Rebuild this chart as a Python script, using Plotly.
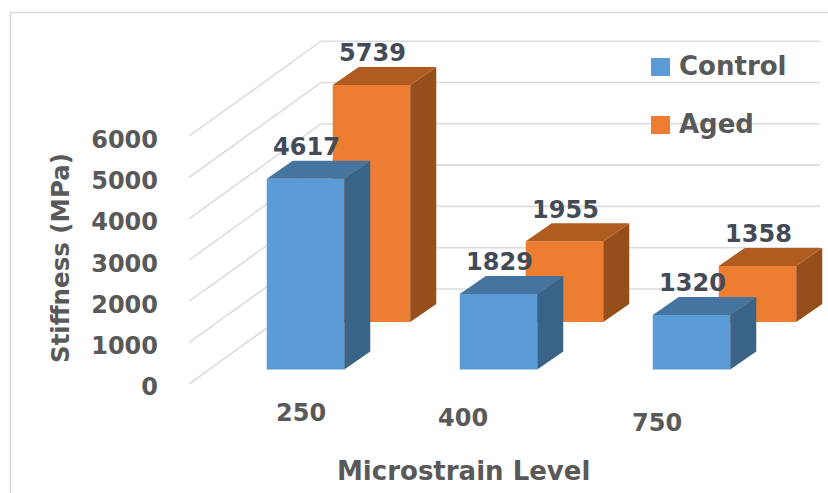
import plotly.graph_objects as go

# Chart values
levels = ["250", "400", "750"]
control = [4617, 1829, 1320]
aged = [5739, 1955, 1358]
y_ticks = [0, 1000, 2000, 3000, 4000, 5000, 6000]

W, H = 828, 493
FONT = "DejaVu Sans"
AXIS_GREY = "#595959"
LABEL_DARK = "#434b57"

# Oblique projection of the pseudo-3D box, expressed in screen pixels per unit
PX_PER_CAT = 193.0
PX_PER_VAL = 0.0413
BAR_PX = 77.5
DEPTH_X, DEPTH_Y = 26.0, 18.0      # bar depth
ROW_X, ROW_Y = 66.0, 47.5          # shift of the rear series
ORIGIN_X, BAR_ZERO_Y = 305.5, 369.5
TICK_ZERO_Y = 384.0                # the value labels sit on the front edge of the wall

dx = lambda px: px / PX_PER_CAT
dv = lambda px: px / PX_PER_VAL
xrange_ = [-ORIGIN_X / PX_PER_CAT, (W - ORIGIN_X) / PX_PER_CAT]
bar_range = [-(H - BAR_ZERO_Y) / PX_PER_VAL, BAR_ZERO_Y / PX_PER_VAL]
tick_range = [-(H - TICK_ZERO_Y) / PX_PER_VAL, TICK_ZERO_Y / PX_PER_VAL]

WALL_FRONT_X = dx(189 - ORIGIN_X)
WALL_BACK_X = dx(321 - ORIGIN_X)
WALL_RIGHT_X = dx(820 - ORIGIN_X)
WALL_RISE = dv(95)


def box_faces(values, shift_x, shift_y):
    """Outline coordinates of the side and top faces for one series."""
    half = dx(BAR_PX) / 2
    ox, oy = dx(DEPTH_X), dv(DEPTH_Y)
    sx, sy, tx, ty = [], [], [], []
    for i, v in enumerate(values):
        l, r = i + shift_x - half, i + shift_x + half
        b, t = shift_y, shift_y + v
        sx += [r, r + ox, r + ox, r, r, None]
        sy += [b, b + oy, t + oy, t, b, None]
        tx += [l, l + ox, r + ox, r, l, None]
        ty += [t, t + oy, t + oy, t, t, None]
    return sx, sy, tx, ty


fig = go.Figure()

# Back wall gridlines, tied to the value ticks
grid_x, grid_y = [], []
for v in y_ticks:
    grid_x += [WALL_FRONT_X, WALL_BACK_X, WALL_RIGHT_X, None]
    grid_y += [v, v + WALL_RISE, v + WALL_RISE, None]
fig.add_trace(go.Scatter(x=grid_x, y=grid_y, mode="lines", yaxis="y", showlegend=False,
                         hoverinfo="skip", line=dict(color="#dcdcdc", width=1.6)))

series = [
    ("Aged", aged, dx(ROW_X), dv(ROW_Y), "#ED7D31", "#964E1A", "#B05C20"),
    ("Control", control, 0.0, 0.0, "#5B9BD5", "#3A6487", "#44749F"),
]
for name, vals, sx0, sy0, front, side, top in series:
    fig.add_trace(go.Bar(x=[i + sx0 for i in range(len(vals))], y=vals, base=sy0,
                         width=dx(BAR_PX), name=name, yaxis="y2", showlegend=False,
                         marker=dict(color=front, line=dict(width=0))))
    sx, sy, tx, ty = box_faces(vals, sx0, sy0)
    for fx, fy, col in ((sx, sy, side), (tx, ty, top)):
        fig.add_trace(go.Scatter(x=fx, y=fy, mode="lines", fill="toself", fillcolor=col,
                                 line=dict(width=0), yaxis="y2", showlegend=False,
                                 hoverinfo="skip"))

# Value labels float just above the rear edge of each box top
for name, vals, sx0, sy0, *_ in series:
    fig.add_trace(go.Scatter(x=[i + sx0 + dx(1) for i in range(len(vals))],
                             y=[v + sy0 + dv(DEPTH_Y + 11.5) for v in vals],
                             mode="text", text=[str(v) for v in vals], yaxis="y2",
                             textposition="middle center", showlegend=False, hoverinfo="skip",
                             textfont=dict(family=FONT, size=24, color=LABEL_DARK, weight="bold")))

px_x = lambda p: p / W
px_y = lambda p: 1 - p / H
annotations = []


def add_label(text, x, y, size=24, color=AXIS_GREY, angle=0, xanchor="center"):
    annotations.append(dict(text=text, xref="paper", yref="paper", x=px_x(x), y=px_y(y),
                            xanchor=xanchor, yanchor="middle", showarrow=False, textangle=angle,
                            font=dict(family=FONT, size=size, color=color, weight="bold")))


# Category labels step down along the floor edge
for lab, (lx, ly) in zip(levels, [(301, 413), (463, 418), (657, 423)]):
    add_label(lab, lx, ly)
add_label("Microstrain Level", 463, 471, size=26)
add_label("Stiffness (MPa)", 60, 258, size=24.5, angle=-90)

# Legend keys and text
shapes = [
    dict(type="line", xref="paper", yref="paper", x0=px_x(10.5), x1=px_x(10.5), y0=0, y1=px_y(12.5),
         line=dict(color="#d9d9d9", width=1.5)),
    dict(type="line", xref="paper", yref="paper", x0=px_x(10), x1=1, y0=px_y(12.5), y1=px_y(12.5),
         line=dict(color="#d9d9d9", width=1.5)),
]
for name, color, key_y in (("Control", "#5B9BD5", 67), ("Aged", "#ED7D31", 125)):
    shapes.append(dict(type="rect", xref="paper", yref="paper", x0=px_x(651), x1=px_x(670),
                       y0=px_y(key_y + 9), y1=px_y(key_y - 9), fillcolor=color,
                       line=dict(width=0)))
    add_label(name, 677, key_y - 1, size=26, xanchor="left")

fig.update_layout(
    width=W, height=H, margin=dict(l=0, r=0, t=0, b=0), autosize=False,
    paper_bgcolor="white", plot_bgcolor="white", barmode="overlay", showlegend=False,
    shapes=shapes, annotations=annotations,
    xaxis=dict(range=xrange_, visible=False, domain=[0, 1], fixedrange=True),
    yaxis=dict(range=tick_range, anchor="free", position=px_x(158), side="left",
               tickmode="array", tickvals=y_ticks, ticktext=[str(v) for v in y_ticks],
               showgrid=False, zeroline=False, showline=False, ticks="", fixedrange=True,
               ticklabelshift=3,
               tickfont=dict(family=FONT, size=24, color=AXIS_GREY, weight="bold")),
    yaxis2=dict(range=bar_range, overlaying="y", visible=False, fixedrange=True),
)

fig.write_html("out.html", config=dict(displayModeBar=False))
